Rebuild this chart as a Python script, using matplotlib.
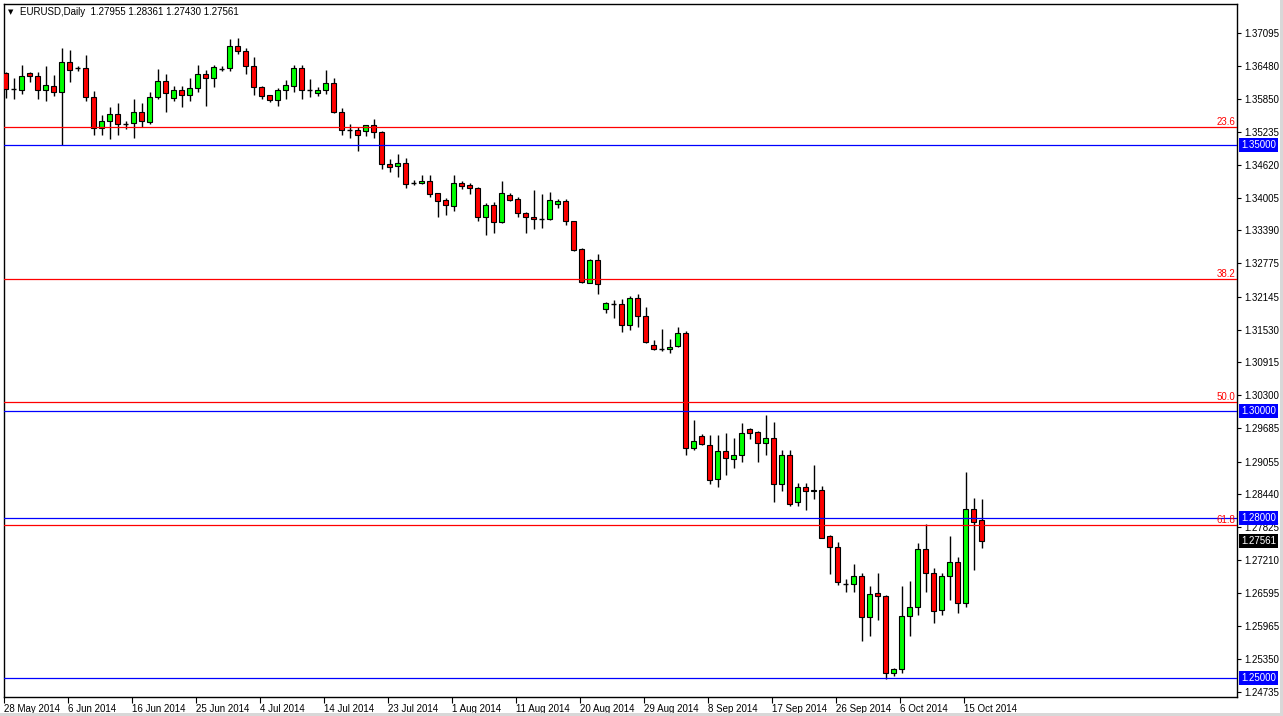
import numpy as np
import matplotlib
matplotlib.use("Agg")
import matplotlib.pyplot as plt
import matplotlib.transforms as mtransforms
from matplotlib.patches import Rectangle

plt.rcParams['font.family'] = ['Liberation Sans', 'DejaVu Sans']

# daily EURUSD bars, 28 May 2014 .. 17 Oct 2014
opens = [1.3635, 1.3604, 1.3602, 1.3635, 1.3628, 1.3602, 1.3611, 1.3598, 1.3656, 1.3643,
         1.3643, 1.3589, 1.3531, 1.3544, 1.3557, 1.3539, 1.3540, 1.3561, 1.3542, 1.3589,
         1.3619, 1.3587, 1.3603, 1.3594, 1.3606, 1.3632, 1.3625, 1.3642, 1.3643, 1.3686,
         1.3675, 1.3647, 1.3608, 1.3593, 1.3584, 1.3603, 1.3611, 1.3643, 1.3603, 1.3596,
         1.3603, 1.3615, 1.3562, 1.3527, 1.3527, 1.3525, 1.3536, 1.3523, 1.3463, 1.3460,
         1.3466, 1.3428, 1.3428, 1.3432, 1.3409, 1.3396, 1.3385, 1.3428, 1.3424, 1.3418,
         1.3365, 1.3386, 1.3354, 1.3406, 1.3398, 1.3371, 1.3364, 1.3361, 1.3361, 1.3388,
         1.3394, 1.3356, 1.3304, 1.3241, 1.3284, 1.3191, 1.3202, 1.3201, 1.3161, 1.3212,
         1.3178, 1.3124, 1.3117, 1.3116, 1.3122, 1.3146, 1.2930, 1.2953, 1.2937, 1.2872,
         1.2925, 1.2911, 1.2917, 1.2967, 1.2961, 1.2940, 1.2949, 1.2863, 1.2917, 1.2829,
         1.2857, 1.2850, 1.2853, 1.2765, 1.2745, 1.2676, 1.2675, 1.2690, 1.2613, 1.2658,
         1.2653, 1.2508, 1.2516, 1.2615, 1.2632, 1.2741, 1.2696, 1.2627, 1.2690, 1.2718,
         1.2640, 1.2816, 1.27955]
highs = [1.3637, 1.3625, 1.3649, 1.3637, 1.3637, 1.3648, 1.3630, 1.3681, 1.3678, 1.3648,
         1.3668, 1.3601, 1.3556, 1.3570, 1.3578, 1.3545, 1.3585, 1.3578, 1.3598, 1.3642,
         1.3633, 1.3610, 1.3610, 1.3626, 1.3649, 1.3640, 1.3649, 1.3648, 1.3698, 1.3700,
         1.3681, 1.3664, 1.3611, 1.3594, 1.3606, 1.3621, 1.3649, 1.3649, 1.3623, 1.3608,
         1.3640, 1.3626, 1.3568, 1.3539, 1.3534, 1.3537, 1.3548, 1.3525, 1.3473, 1.3483,
         1.3475, 1.3434, 1.3443, 1.3443, 1.3409, 1.3400, 1.3443, 1.3431, 1.3429, 1.3420,
         1.3390, 1.3392, 1.3432, 1.3409, 1.3401, 1.3374, 1.3415, 1.3407, 1.3411, 1.3398,
         1.3398, 1.3357, 1.3307, 1.3286, 1.3295, 1.3205, 1.3209, 1.3211, 1.3216, 1.3220,
         1.3195, 1.3133, 1.3154, 1.3135, 1.3157, 1.3150, 1.2983, 1.2957, 1.2955, 1.2955,
         1.2960, 1.2949, 1.2977, 1.2968, 1.2963, 1.2993, 1.2979, 1.2928, 1.2927, 1.2865,
         1.2865, 1.2899, 1.2860, 1.2768, 1.2754, 1.2685, 1.2713, 1.2696, 1.2672, 1.2696,
         1.2655, 1.2519, 1.2672, 1.2681, 1.2752, 1.2788, 1.2705, 1.2696, 1.2765, 1.2726,
         1.2885, 1.2837, 1.28361]
lows = [1.3587, 1.3585, 1.3595, 1.3617, 1.3585, 1.3581, 1.3592, 1.3499, 1.3618, 1.3638,
        1.3581, 1.3519, 1.3519, 1.3510, 1.3519, 1.3529, 1.3512, 1.3534, 1.3539, 1.3585,
        1.3562, 1.3581, 1.3571, 1.3581, 1.3599, 1.3573, 1.3609, 1.3638, 1.3638, 1.3671,
        1.3633, 1.3594, 1.3585, 1.3580, 1.3573, 1.3585, 1.3599, 1.3586, 1.3590, 1.3592,
        1.3595, 1.3560, 1.3519, 1.3512, 1.3489, 1.3517, 1.3512, 1.3455, 1.3449, 1.3439,
        1.3419, 1.3424, 1.3426, 1.3402, 1.3365, 1.3368, 1.3376, 1.3416, 1.3407, 1.3356,
        1.3331, 1.3335, 1.3353, 1.3395, 1.3364, 1.3334, 1.3341, 1.3344, 1.3358, 1.3381,
        1.3350, 1.3301, 1.3240, 1.3240, 1.3219, 1.3184, 1.3175, 1.3149, 1.3152, 1.3157,
        1.3128, 1.3115, 1.3113, 1.3109, 1.3121, 1.2917, 1.2927, 1.2937, 1.2864, 1.2857,
        1.2881, 1.2894, 1.2905, 1.2947, 1.2905, 1.2918, 1.2830, 1.2851, 1.2823, 1.2823,
        1.2815, 1.2836, 1.2762, 1.2694, 1.2673, 1.2661, 1.2660, 1.2568, 1.2579, 1.2608,
        1.2497, 1.2504, 1.2509, 1.2579, 1.2618, 1.2660, 1.2602, 1.2617, 1.2646, 1.2621,
        1.2633, 1.2702, 1.27430]
closes = [1.3604, 1.3604, 1.3628, 1.3628, 1.3602, 1.3612, 1.3598, 1.3656, 1.3640, 1.3643,
          1.3589, 1.3531, 1.3544, 1.3557, 1.3538, 1.3539, 1.3561, 1.3544, 1.3589, 1.3619,
          1.3596, 1.3603, 1.3594, 1.3606, 1.3632, 1.3625, 1.3645, 1.3642, 1.3686, 1.3675,
          1.3648, 1.3608, 1.3591, 1.3584, 1.3603, 1.3612, 1.3643, 1.3603, 1.3603, 1.3603,
          1.3615, 1.3562, 1.3527, 1.3527, 1.3519, 1.3536, 1.3523, 1.3463, 1.3459, 1.3465,
          1.3426, 1.3428, 1.3432, 1.3408, 1.3395, 1.3386, 1.3428, 1.3423, 1.3418, 1.3365,
          1.3386, 1.3354, 1.3409, 1.3397, 1.3371, 1.3364, 1.3360, 1.3361, 1.3396, 1.3394,
          1.3356, 1.3302, 1.3243, 1.3284, 1.3238, 1.3203, 1.3202, 1.3161, 1.3212, 1.3178,
          1.3129, 1.3117, 1.3117, 1.3121, 1.3147, 1.2930, 1.2945, 1.2938, 1.2870, 1.2925,
          1.2912, 1.2917, 1.2959, 1.2960, 1.2940, 1.2949, 1.2863, 1.2917, 1.2825, 1.2857,
          1.2850, 1.2853, 1.2763, 1.2745, 1.2679, 1.2676, 1.2690, 1.2613, 1.2657, 1.2653,
          1.2508, 1.2516, 1.2615, 1.2632, 1.2741, 1.2696, 1.2625, 1.2690, 1.2717, 1.2640,
          1.2816, 1.2793, 1.27561]

date_labels = ['28 May 2014', '6 Jun 2014', '16 Jun 2014', '25 Jun 2014', '4 Jul 2014',
               '14 Jul 2014', '23 Jul 2014', '1 Aug 2014', '11 Aug 2014', '20 Aug 2014',
               '29 Aug 2014', '8 Sep 2014', '17 Sep 2014', '26 Sep 2014', '6 Oct 2014',
               '15 Oct 2014']
bars_per_label = 8

price_ticks = [1.37095, 1.36480, 1.35850, 1.35235, 1.34620, 1.34005, 1.33390, 1.32775,
               1.32145, 1.31530, 1.30915, 1.30300, 1.29685, 1.29055, 1.28440, 1.27825,
               1.27210, 1.26595, 1.25965, 1.25350, 1.24735]

# fibonacci retracement 1.3993 -> 1.2042
fib_high, fib_low = 1.3993, 1.2042
fib_levels = [23.6, 38.2, 50.0, 61.8]
round_levels = [1.35, 1.30, 1.28, 1.25]
last_price = closes[-1]

opens, highs, lows, closes = map(np.array, (opens, highs, lows, closes))
n = len(opens)
x = np.arange(n)

W, H = 1283, 716
fig = plt.figure(figsize=(W / 100, H / 100), dpi=100)
fig.patch.set_facecolor('white')
ax = fig.add_axes([4 / W, 1 - 697 / H, 1233 / W, 693 / H])

ax.set_xlim(-0.19, 153.94)
ax.set_ylim(1.24638, 1.37639)

# candles
ax.vlines(x, lows, highs, color='black', lw=1.0, zorder=2)
up = closes > opens
down = closes < opens
flat = closes == opens
bw = 0.56
ax.bar(x[up], (closes - opens)[up], bottom=opens[up], width=bw,
       color='#00ff00', edgecolor='black', lw=0.8, zorder=3)
ax.bar(x[down], (closes - opens)[down], bottom=opens[down], width=bw,
       color='#ff0000', edgecolor='black', lw=0.8, zorder=3)
ax.hlines(opens[flat], x[flat] - bw / 2 - 0.05, x[flat] + bw / 2 + 0.05,
          color='black', lw=1.0, zorder=3)

# levels
for lv in round_levels:
    ax.axhline(lv, color='#0000ff', lw=0.9, zorder=4)
trans = mtransforms.blended_transform_factory(ax.transAxes, ax.transData)
for f in fib_levels:
    y = fib_high - (fib_high - fib_low) * f / 100
    ax.axhline(y, color='#ff0000', lw=0.9, zorder=4)
    ax.text(0.9985, y, f'{f:.1f}', transform=trans, ha='right', va='bottom',
            color='#ff0000', fontsize=7, zorder=5)

# axes styling
for s in ax.spines.values():
    s.set_color('black')
    s.set_linewidth(1.0)
ax.yaxis.tick_right()
ax.set_yticks(price_ticks)
ax.set_yticklabels([f'{p:.5f}' for p in price_ticks])
ax.tick_params(axis='y', direction='out', length=3, width=0.8, pad=2,
               labelsize=7, colors='black')
ax.set_xticks(np.arange(len(date_labels)) * bars_per_label - 0.2)
ax.set_xticklabels(date_labels, ha='left')
ax.tick_params(axis='x', direction='out', length=4, width=0.8, pad=1,
               labelsize=7, colors='black')

# highlighted price labels on the scale
for lv in round_levels:
    ax.text(1.0035, lv, f'{lv:.5f}', transform=trans, ha='left', va='center',
            color='white', fontsize=7, zorder=10, clip_on=False,
            bbox=dict(boxstyle='square,pad=0.22', fc='#0000ff', ec='none'))
ax.text(1.0035, last_price, f'{last_price:.5f}', transform=trans, ha='left',
        va='center', color='white', fontsize=7, zorder=10, clip_on=False,
        bbox=dict(boxstyle='square,pad=0.22', fc='black', ec='none'))

# header
ax.text(0.0035, 0.9885, '\u25bc', transform=ax.transAxes, ha='left', va='center',
        fontsize=5, family='DejaVu Sans')
ax.text(0.013, 0.9885,
        f'EURUSD,Daily  {opens[-1]:.5f} {highs[-1]:.5f} {lows[-1]:.5f} {closes[-1]:.5f}',
        transform=ax.transAxes, ha='left', va='center', fontsize=7)

# window edges
fig.add_artist(Rectangle((1280 / W, 0), 3 / W, 1, transform=fig.transFigure,
                         fc='#d8d8d8', ec='none'))
fig.add_artist(Rectangle((0, 0), 1, 3 / H, transform=fig.transFigure,
                         fc='#d8d8d8', ec='none'))

fig.savefig('out.png', dpi=100)
